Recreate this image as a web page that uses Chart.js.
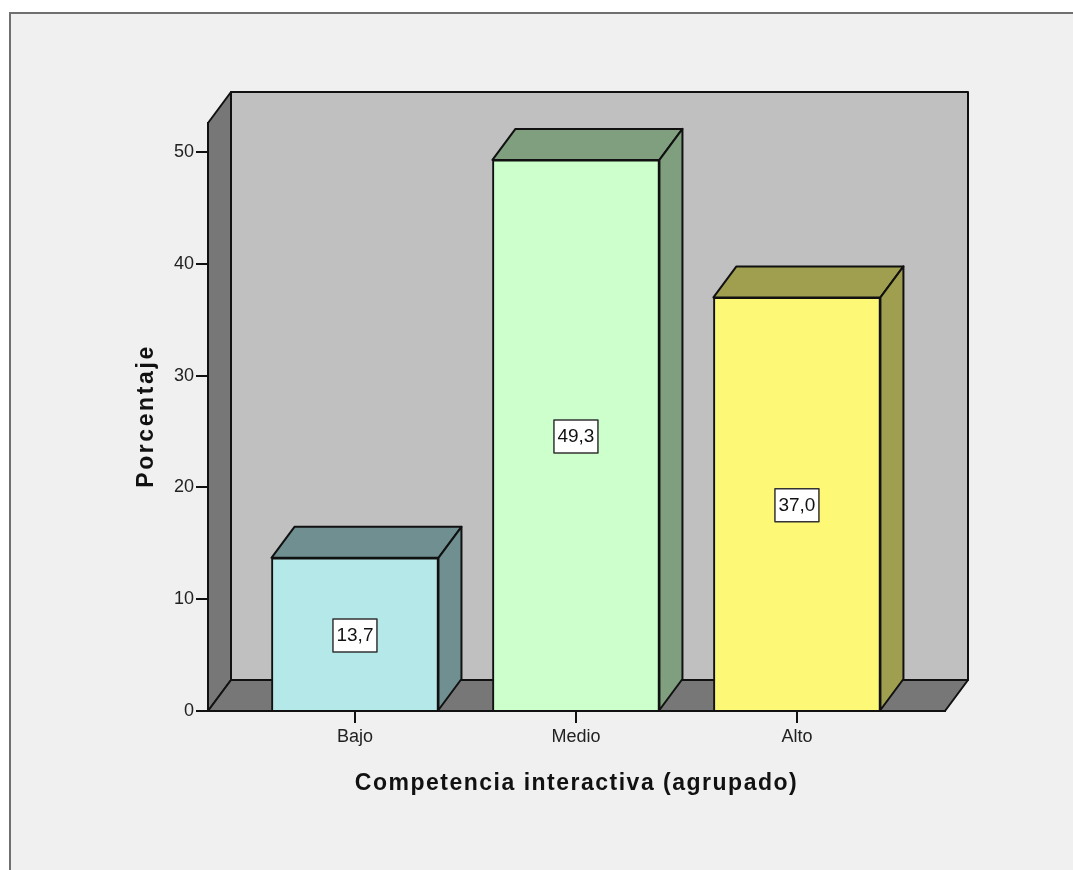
<!DOCTYPE html>
<html>
<head>
<meta charset="utf-8">
<script src="https://cdn.jsdelivr.net/npm/chart.js@4"></script>
<style>
    html, body { margin: 0; padding: 0; background: #fff; }
    canvas { display: block; }
</style>
</head>
<body>
<canvas id="grafico" width="1073" height="870"></canvas>
<script>
const categorias = ["Bajo", "Medio", "Alto"];
const porcentajes = [13.7, 49.3, 37.0];
const marcasY = [0, 10, 20, 30, 40, 50];
const tituloX = "Competencia interactiva (agrupado)";
const tituloY = "Porcentaje";
const coloresFrente = ["#b5e8e8", "#ccffcc", "#fdf876"];
const coloresLado = ["#6f8f90", "#7f9f7f", "#9f9f4f"];

// desplazamiento de la cara trasera (efecto 3D)
const fondoX = 23;
const fondoY = 31;
const linea = "#111";

function cara(ctx, puntos, relleno) {
    ctx.beginPath();
    puntos.forEach((p, i) => i ? ctx.lineTo(p[0], p[1]) : ctx.moveTo(p[0], p[1]));
    ctx.closePath();
    ctx.fillStyle = relleno;
    ctx.fill();
    ctx.lineWidth = 2;
    ctx.lineJoin = "round";
    ctx.strokeStyle = linea;
    ctx.stroke();
}

const caja3d = {
    id: "caja3d",
    beforeDraw(chart) {
        const ctx = chart.ctx;
        const a = chart.chartArea;
        ctx.save();
        // panel gris del visor
        ctx.fillStyle = "#f0f0f0";
        ctx.fillRect(10, 13, 1063, 857);
        ctx.fillStyle = "#707070";
        ctx.fillRect(9, 12, 1064, 2);
        ctx.fillRect(9, 12, 2, 858);

        cara(ctx, [[a.left + fondoX, a.top - fondoY], [a.right + fondoX, a.top - fondoY],
            [a.right + fondoX, a.bottom - fondoY], [a.left + fondoX, a.bottom - fondoY]], "#c0c0c0");
        cara(ctx, [[a.left, a.top], [a.left + fondoX, a.top - fondoY],
            [a.left + fondoX, a.bottom - fondoY], [a.left, a.bottom]], "#777777");
        cara(ctx, [[a.left, a.bottom], [a.left + fondoX, a.bottom - fondoY],
            [a.right + fondoX, a.bottom - fondoY], [a.right, a.bottom]], "#777777");
        ctx.restore();
    },
    afterDatasetsDraw(chart) {
        const ctx = chart.ctx;
        ctx.save();
        chart.getDatasetMeta(0).data.forEach((bar, i) => {
            const izq = bar.x - bar.width / 2;
            const der = bar.x + bar.width / 2;
            cara(ctx, [[izq, bar.y], [izq + fondoX, bar.y - fondoY],
                [der + fondoX, bar.y - fondoY], [der, bar.y]], coloresLado[i]);
            cara(ctx, [[der, bar.y], [der + fondoX, bar.y - fondoY],
                [der + fondoX, bar.base - fondoY], [der, bar.base]], coloresLado[i]);

            // etiqueta del valor
            const texto = porcentajes[i].toFixed(1).replace(".", ",");
            const cy = (bar.y + bar.base) / 2 + 1;
            ctx.fillStyle = "#fff";
            ctx.fillRect(bar.x - 22, cy - 16, 44, 33);
            ctx.lineWidth = 1.5;
            ctx.strokeStyle = "#333";
            ctx.strokeRect(bar.x - 22, cy - 16, 44, 33);
            ctx.fillStyle = "#111";
            ctx.font = '19px "Liberation Sans"';
            ctx.textAlign = "center";
            ctx.textBaseline = "middle";
            ctx.fillText(texto, bar.x, cy + 1);
        });
        ctx.restore();
    },
    afterDraw(chart) {
        // titulos de eje con el espaciado ancho del original
        const ctx = chart.ctx;
        const a = chart.chartArea;
        ctx.save();
        ctx.fillStyle = "#111";
        ctx.textAlign = "center";
        ctx.textBaseline = "middle";
        ctx.font = 'bold 23px "Liberation Sans"';
        ctx.letterSpacing = "1.5px";
        ctx.fillText(tituloX, (a.left + a.right) / 2, 784);
        ctx.letterSpacing = "2.6px";
        ctx.translate(147, 416);
        ctx.rotate(-Math.PI / 2);
        ctx.fillText(tituloY, 0, 0);
        ctx.restore();
    }
};

new Chart(document.getElementById("grafico"), {
    type: "bar",
    data: {
        datasets: [{
            data: porcentajes.map((v, i) => ({ x: i + 1, y: v })),
            backgroundColor: coloresFrente,
            borderColor: linea,
            borderWidth: 2,
            barThickness: 167
        }]
    },
    options: {
        responsive: false,
        animation: false,
        layout: { padding: { left: 0, top: 123, right: 128, bottom: 0 } },
        plugins: { legend: { display: false }, tooltip: { enabled: false } },
        scales: {
            x: {
                type: "linear",
                offset: false,
                min: 0.335,
                max: 3.67,
                afterBuildTicks: scale => { scale.ticks = categorias.map((c, i) => ({ value: i + 1 })); },
                afterFit: scale => { scale.height = 159; },
                grid: { offset: false, drawOnChartArea: false, color: linea, lineWidth: 2, tickLength: 12 },
                border: { color: linea, width: 2 },
                ticks: {
                    color: "#222",
                    padding: 3,
                    maxRotation: 0,
                    autoSkip: false,
                    font: { family: '"Liberation Sans"', size: 18 },
                    callback: value => categorias[value - 1]
                }
            },
            y: {
                min: 0,
                max: 52.6,
                afterBuildTicks: scale => { scale.ticks = marcasY.map(v => ({ value: v })); },
                afterFit: scale => { scale.width = 208; },
                grid: { drawOnChartArea: false, color: linea, lineWidth: 2, tickLength: 12 },
                border: { color: linea, width: 2 },
                ticks: {
                    color: "#222",
                    padding: 2,
                    font: { family: '"Liberation Sans"', size: 18 }
                }
            }
        }
    },
    plugins: [caja3d]
});
</script>
</body>
</html>
